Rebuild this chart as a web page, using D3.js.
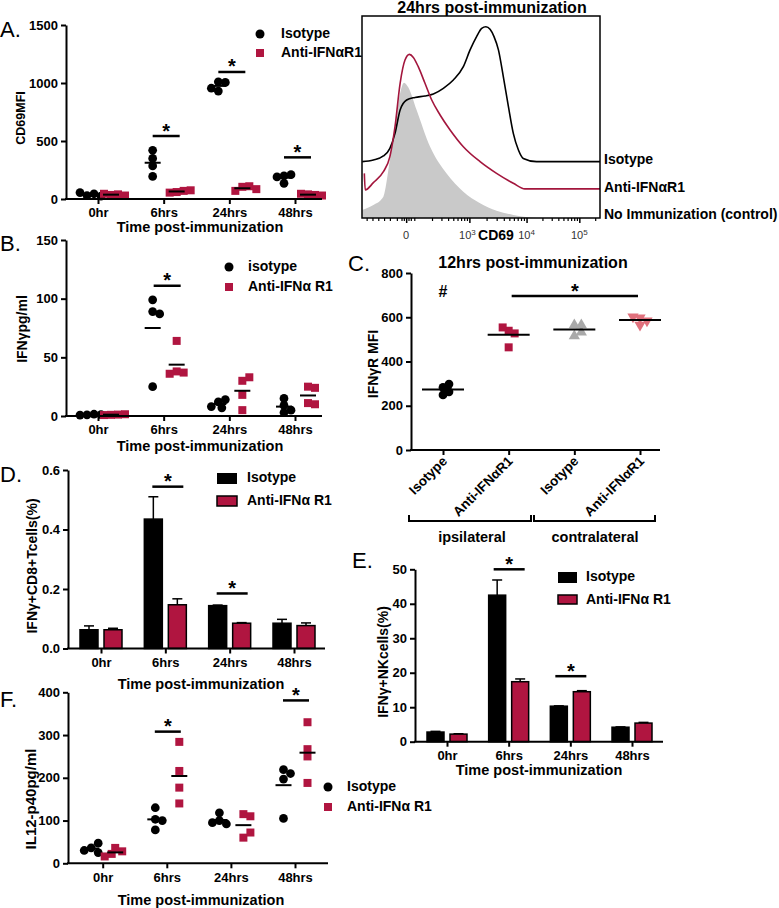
<!DOCTYPE html>
<html><head><meta charset="utf-8">
<script src="https://cdn.jsdelivr.net/npm/d3@7"></script>
<style>body{margin:0;background:#fff} svg text{font-family:"Liberation Sans",Arial,sans-serif}</style>
</head><body><script>
// ---------------- DATA ----------------
const timeLabels = ["0hr","6hrs","24hrs","48hrs"];
// Panel A – CD69 MFI
const cd69Isotype = [[30,45,55,25],[420,350,285,195],[1010,1005,930,955],[200,210,135,190]];
const cd69Anti    = [[35,40,45,30],[60,70,55,75],[105,110,70,85],[40,35,45,30]];
const cd69Sig     = [[1,543],[2,1095],[3,359]];
const cd69Ticks   = [0,500,1000,1500];
// Panel A – histogram (channel, % of max)
const histIsotype = [[1,27.9],[49,28.7],[92,30.7],[120,34.5],[142,41.9],[164,53.5],[192,58.4],[228,59.7],[271,60.4],[307,61.4],[350,64.2],[393,68.3],[436,74.9],[465,83.2],[493,89.8],[515,93.9],[533,94.7],[551,93.4],[568,89.8],[587,83.2],[608,70],[630,55.1],[651,41.9],[673,33.7],[694,29.5],[751,27.9],[1024,27.9]];
const histAnti = [[10,22.1],[14,13.9],[49,17.5],[92,22.9],[120,30.4],[142,45.2],[164,66.7],[185,78.2],[204,81],[221,79.5],[242,74.9],[271,66.7],[300,58.4],[336,51],[379,43.6],[436,35.3],[508,27.9],[579,22.1],[651,17.2],[701,14.4],[1024,14.4]];
const histControl = [[1,4],[49,6.4],[92,10.5],[120,28.7],[142,45],[164,61.7],[181,67],[199,64.7],[235,53.5],[293,35.3],[364,22],[436,13],[508,7.3],[579,3.6],[651,1.5],[723,0.3],[752,0]];
const histTickCh = [190,462,708,935];
const histTickLab = [["0",""],["10","3"],["10","4"],["10","5"]];
const histLabels = ["Isotype","Anti-IFNαR1","No Immunization (control)"];
// Panel B – IFNγ pg/ml
const ifngIsotype = [[1,1.5,0.8,1.2],[99,89,87,25],[12,14,7,8],[15,9,5,3]];
const ifngAnti    = [[1,1.2,0.8,1.5],[64,38,37,36],[30,33,18,5],[25,24,11,10]];
const ifngSig     = [[1,111]];
const ifngTicks   = [0,50,100,150];
// Panel C – IFNγR MFI
const cCategories = ["Isotype","Anti-IFNαR1","Isotype","Anti-IFNαR1"];
const ifngrIpsiIsotype   = [283,298,249,263];
const ifngrIpsiAnti      = [539,527,554,464];
const ifngrContraIsotype = [565,565,515,532];
const ifngrContraAnti    = [598,565,584,602];
const cSig   = [[1,3,696]];
const cTicks = [0,200,400,600,800];
// Panel D – IFNγ+CD8+ T cells (%)
const cd8Isotype    = [0.063,0.435,0.144,0.085];
const cd8IsotypeSem = [0.013,0.075,0.002,0.013];
const cd8Anti       = [0.063,0.147,0.085,0.077];
const cd8AntiSem    = [0.005,0.02,0.002,0.009];
const cd8Sig   = [[1,0.544],[2,0.185]];
const cd8Ticks = [0,0.2,0.4,0.6];
// Panel E – IFNγ+ NK cells (%)
const nkIsotype    = [2.8,42.5,10.3,4.2];
const nkIsotypeSem = [0.2,4.4,0.1,0.1];
const nkAnti       = [2.2,17.4,14.5,5.4];
const nkAntiSem    = [0.1,0.8,0.3,0.2];
const nkSig   = [[1,50],[2,19]];
const nkTicks = [0,10,20,30,40,50];
// Panel F – IL12-p40 pg/ml
const il12Isotype = [[36,47,25,30],[130,78,103,100],[118,100,92,95],[197,219,210,105]];
const il12Anti    = [[36,28,22,16],[284,216,177,140],[115,110,60,72],[330,267,250,188]];
const il12Sig   = [[1,308],[3,381]];
const il12Ticks = [0,100,200,300,400];

// ---------------- DRAWING ----------------
const FONT = '"Liberation Sans", Arial, sans-serif';
const RED = "#b01540", GREY = "#a9a9a9", PINK = "#e0707c";
const svg = d3.select("body").append("svg").attr("width",779).attr("height",908);

function txt(x,y,s,o={}){
  const t = svg.append("text").attr("x",x).attr("y",y).text(s)
    .attr("font-size",o.size||14).attr("font-weight",o.weight||"bold")
    .attr("text-anchor",o.anchor||"start").attr("fill",o.fill||"#000");
  if(o.rotate!==undefined) t.attr("transform",`rotate(${o.rotate},${x},${y})`);
  if(o.baseline) t.attr("dominant-baseline",o.baseline);
  return t;
}
function styleAxis(g,fs=13){
  g.select(".domain").attr("stroke","#000").attr("stroke-width",2);
  g.selectAll(".tick line").attr("stroke","#000").attr("stroke-width",2);
  g.selectAll(".tick text").attr("fill","#000").attr("font-size",fs).attr("font-weight","bold").attr("font-family",FONT);
}
function yAxis(x,y,ticks,fmt){
  const g = svg.append("g").attr("transform",`translate(${x},0)`)
    .call(d3.axisLeft(y).tickValues(ticks).tickFormat(fmt||d3.format("d")).tickSize(5).tickSizeOuter(0).tickPadding(3));
  styleAxis(g);
}
function xAxis(yPos,x0,x1,xp,showLabels=true){
  const g = svg.append("g").attr("transform",`translate(0,${yPos})`)
    .call(d3.axisBottom(xp).tickSize(5).tickSizeOuter(0).tickPadding(4));
  g.select(".domain").remove();
  styleAxis(g);
  if(!showLabels) g.selectAll(".tick text").remove();
  g.append("line").attr("x1",x0).attr("x2",x1).attr("stroke","#000").attr("stroke-width",2);
}
function marker(shape,x,y,color,s){
  const types={circle:d3.symbolCircle,square:d3.symbolSquare,tri:d3.symbolTriangle,triDown:d3.symbolTriangle};
  svg.append("path").attr("d",d3.symbol().type(types[shape]).size(s)())
    .attr("transform",`translate(${x},${y})${shape==="triDown"?" rotate(180)":""}`).attr("fill",color);
}
function swarm(vals,cx,y,r,step){
  const placed=[];
  return vals.map(v=>{
    const py=y(v); let px=cx;
    const cands=[0]; for(let j=1;j<10;j++) cands.push(j*step,-j*step);
    for(const off of cands){
      if(placed.every(p=>Math.hypot(p.x-(cx+off),p.y-py)>=r*1.5)){px=cx+off;break;}
    }
    placed.push({x:px,y:py}); return {x:px,y:py};
  });
}
function column(vals,cx,y,shape,color,half,size=60,step=3.5){
  swarm(vals,cx,y,4.3,step).forEach(p=>marker(shape,p.x,p.y,color,size));
  const m=d3.mean(vals);
  svg.append("line").attr("x1",cx-half).attr("x2",cx+half).attr("y1",y(m)).attr("y2",y(m))
    .attr("stroke","#000").attr("stroke-width",2);
}
function sigBar(x1,x2,yy){
  svg.append("line").attr("x1",x1).attr("x2",x2).attr("y1",yy).attr("y2",yy).attr("stroke","#000").attr("stroke-width",2.5);
  txt((x1+x2)/2,yy+1.5,"*",{size:20,anchor:"middle"});
}
function yLabel(x,cy,s,size=14){ txt(x,cy,s,{size,anchor:"middle",rotate:-90,baseline:"middle"}); }
function panelLetter(x,y,s){ txt(x,y,s,{size:22,weight:"normal"}); }

// ===== Panel A scatter =====
{
  const y=d3.scaleLinear().domain([0,1500]).range([199,25]);
  const xp=d3.scalePoint().domain(timeLabels).range([98,295]);
  timeLabels.forEach((t,i)=>{
    column(cd69Isotype[i],xp(t)-11,y,"circle","#000",8);
    column(cd69Anti[i],xp(t)+13,y,"square",RED,8,64);
  });
  yAxis(66,y,cd69Ticks);
  xAxis(199,65,322,xp);
  cd69Sig.forEach(([i,v])=>sigBar(xp(timeLabels[i])-11,xp(timeLabels[i])+16,y(v)));
  txt(200,232,"Time post-immunization",{size:14.5,anchor:"middle"});
  yLabel(22,118,"CD69MFI",12.5);
  panelLetter(0,37,"A.");
  marker("circle",260,34,"#000",64); txt(281,34,"Isotype",{baseline:"middle"});
  marker("square",260,53,RED,64); txt(281,53,"Anti-IFNαR1",{baseline:"middle"});
}
// ===== Panel A histogram =====
{
  const hx=d3.scaleLinear().domain([0,1024]).range([362,600]);
  const hy=d3.scaleLinear().domain([0,100]).range([218,16]);
  svg.append("clipPath").attr("id","hclip").append("rect").attr("x",362).attr("y",16).attr("width",238).attr("height",202);
  const hg=svg.append("g").attr("clip-path","url(#hclip)");
  hg.append("path").datum(histControl).attr("fill","#c9c9c9")
    .attr("d",d3.area().x(d=>hx(d[0])).y0(hy(0)).y1(d=>hy(d[1])).curve(d3.curveMonotoneX));
  const ln=d3.line().x(d=>hx(d[0])).y(d=>hy(d[1])).curve(d3.curveMonotoneX);
  hg.append("path").datum(histIsotype).attr("fill","none").attr("stroke","#000").attr("stroke-width",1.6).attr("d",ln);
  hg.append("path").datum(histAnti).attr("fill","none").attr("stroke","#a3163d").attr("stroke-width",1.6).attr("d",ln);
  svg.append("rect").attr("x",362).attr("y",16).attr("width",238).attr("height",202).attr("fill","none").attr("stroke","#000").attr("stroke-width",1.5);
  // minor ticks (biexponential display)
  const minor=[20,45,70,95,120,150,170,180,200,210,225];
  for(let d=0;d<3;d++){
    const lo=d===0?histTickCh[1]-230:histTickCh[d], hi=histTickCh[d+1];
    for(let k=2;k<10;k++) minor.push(lo+(hi-lo)*Math.log10(k));
  }
  for(let k=2;k<4;k++) minor.push(histTickCh[3]+(histTickCh[3]-histTickCh[2])*Math.log10(k));
  const ax=d3.axisBottom(hx).tickValues(minor.filter(c=>c<=1024)).tickSize(3).tickFormat("");
  const ga=svg.append("g").attr("transform","translate(0,218)").call(ax);
  ga.select(".domain").remove(); ga.selectAll(".tick line").attr("stroke","#000").attr("stroke-width",1.2);
  const gm=svg.append("g").attr("transform","translate(0,218)").call(d3.axisBottom(hx).tickValues(histTickCh).tickSize(5).tickFormat(""));
  gm.select(".domain").remove(); gm.selectAll(".tick line").attr("stroke","#000").attr("stroke-width",1.5);
  histTickCh.forEach((c,i)=>{
    const t=svg.append("text").attr("x",hx(c)-(i===1?2:0)).attr("y",239).attr("text-anchor","middle").attr("font-size",11).attr("fill","#333");
    t.append("tspan").text(histTickLab[i][0]);
    if(histTickLab[i][1]) t.append("tspan").attr("dy",-4).attr("font-size",8).text(histTickLab[i][1]);
  });
  txt(496,240,"CD69",{size:14,anchor:"middle"});
  txt(492,13,"24hrs post-immunization",{size:16,anchor:"middle"});
  [160,188,215].forEach((yy,i)=>txt(604,yy,histLabels[i],{baseline:"middle"}));
}
// ===== Panel B =====
{
  const y=d3.scaleLinear().domain([0,150]).range([416,240]);
  const xp=d3.scalePoint().domain(timeLabels).range([98,295]);
  timeLabels.forEach((t,i)=>{
    column(ifngIsotype[i],xp(t)-11,y,"circle","#000",8);
    column(ifngAnti[i],xp(t)+13,y,"square",RED,8,64);
  });
  yAxis(66,y,ifngTicks);
  xAxis(416,65,322,xp);
  ifngSig.forEach(([i,v])=>sigBar(xp(timeLabels[i])-10,xp(timeLabels[i])+17,y(v)));
  txt(200,451,"Time post-immunization",{size:14.5,anchor:"middle"});
  yLabel(23,329,"IFNγpg/ml",14);
  panelLetter(0,251,"B.");
  marker("circle",229,267,"#000",64); txt(248,267,"isotype",{baseline:"middle"});
  marker("square",229,287,RED,64); txt(248,287,"Anti-IFNα R1",{baseline:"middle"});
}
// ===== Panel C =====
{
  const y=d3.scaleLinear().domain([0,800]).range([450,273]);
  const xp=d3.scalePoint().domain([0,1,2,3]).range([443,640]);
  column(ifngrIpsiIsotype,xp(0),y,"circle","#000",21,60,6);
  column(ifngrIpsiAnti,xp(1),y,"square",RED,21,64,6);
  column(ifngrContraIsotype,xp(2),y,"tri",GREY,21,55,7);
  column(ifngrContraAnti,xp(3),y,"triDown",PINK,21,55,7);
  yAxis(411,y,cTicks);
  xAxis(450,410,660,xp,false);
  cCategories.forEach((c,i)=>txt(xp(i)+5,462,c,{size:13.5,anchor:"end",rotate:-45}));
  cSig.forEach(([a,b,v])=>{ sigBar(xp(a)+3,xp(b)-2,y(v)); });
  txt(443,297,"#",{size:16,anchor:"middle"});
  svg.append("path").attr("d","M409,515V521H531V515M534,515V521H655V515").attr("fill","none").attr("stroke","#000").attr("stroke-width",2);
  txt(472,542,"ipsilateral",{size:14.5,anchor:"middle"});
  txt(595,542,"contralateral",{size:14.5,anchor:"middle"});
  txt(533,268,"12hrs post-immunization",{size:16,anchor:"middle"});
  yLabel(374,364,"IFNγR MFI",14);
  panelLetter(348,271,"C.");
}
// ===== bar panel helper =====
function barPanel(o){
  const y=d3.scaleLinear().domain([0,o.max]).range([o.y0,o.y1]);
  const xp=d3.scalePoint().domain(timeLabels).range(o.xr);
  const bw=o.bw;
  timeLabels.forEach((t,i)=>{
    const c=xp(t);
    [[o.iso,o.isoSem,c-o.gap-bw,"#000"],[o.anti,o.antiSem,c+o.gap,RED]].forEach(([v,s,x,col])=>{
      const top=y(v[i]), et=y(v[i]+s[i]);
      svg.append("line").attr("x1",x+bw/2).attr("x2",x+bw/2).attr("y1",top).attr("y2",et).attr("stroke","#000").attr("stroke-width",1.5);
      svg.append("line").attr("x1",x+bw/2-5).attr("x2",x+bw/2+5).attr("y1",et).attr("y2",et).attr("stroke","#000").attr("stroke-width",1.5);
      svg.append("rect").attr("x",x).attr("y",top).attr("width",bw).attr("height",o.y0-top)
        .attr("fill",col).attr("stroke","#000").attr("stroke-width",1.5);
    });
  });
  yAxis(o.ax,y,o.ticks,o.fmt);
  xAxis(o.y0,o.ax-1,o.xEnd,xp);
  o.sig.forEach(([i,v])=>sigBar(xp(timeLabels[i])+o.sigL,xp(timeLabels[i])+o.sigR,y(v)));
}
// ===== Panel D =====
barPanel({max:0.6,y0:648.5,y1:470,xr:[101,294],bw:18,gap:3,iso:cd8Isotype,isoSem:cd8IsotypeSem,anti:cd8Anti,antiSem:cd8AntiSem,
  ax:68,xEnd:325,ticks:cd8Ticks,fmt:d3.format(".1f"),sig:cd8Sig,sigL:-13,sigR:18});
txt(201,689,"Time post-immunization",{size:14.5,anchor:"middle"});
yLabel(33,566,"IFNγ+CD8+Tcells(%)",14);
panelLetter(0,482,"D.");
svg.append("rect").attr("x",217).attr("y",473).attr("width",20).attr("height",11).attr("fill","#000");
txt(247,478,"Isotype",{baseline:"middle"});
svg.append("rect").attr("x",217).attr("y",496).attr("width",20).attr("height",10).attr("fill",RED).attr("stroke","#000").attr("stroke-width",1.5);
txt(247,501,"Anti-IFNα R1",{baseline:"middle"});
// ===== Panel E =====
barPanel({max:50,y0:741.7,y1:569.3,xr:[447,632],bw:17,gap:3,iso:nkIsotype,isoSem:nkIsotypeSem,anti:nkAnti,antiSem:nkAntiSem,
  ax:415,xEnd:663,ticks:nkTicks,fmt:d3.format("d"),sig:nkSig,sigL:-15,sigR:16});
txt(539,775,"Time post-immunization",{size:14.5,anchor:"middle"});
yLabel(384,662,"IFNγ+NKcells(%)",14);
panelLetter(352,568,"E.");
svg.append("rect").attr("x",558).attr("y",572).attr("width",19).attr("height",11).attr("fill","#000");
txt(586,577,"Isotype",{baseline:"middle"});
svg.append("rect").attr("x",558).attr("y",595).attr("width",19).attr("height",9).attr("fill",RED).attr("stroke","#000").attr("stroke-width",1.5);
txt(586,600,"Anti-IFNα R1",{baseline:"middle"});
// ===== Panel F =====
{
  const y=d3.scaleLinear().domain([0,400]).range([863.3,692.3]);
  const xp=d3.scalePoint().domain(timeLabels).range([102.7,295]);
  timeLabels.forEach((t,i)=>{
    column(il12Isotype[i],xp(t)-11.5,y,"circle","#000",8);
    column(il12Anti[i],xp(t)+12.5,y,"square",RED,8,64);
  });
  yAxis(68,y,il12Ticks);
  xAxis(863.3,67,328,xp);
  il12Sig.forEach(([i,v])=>sigBar(xp(timeLabels[i])-12,xp(timeLabels[i])+14,y(v)));
  txt(201,905,"Time post-immunization",{size:14.5,anchor:"middle"});
  yLabel(32,799,"IL12-p40pg/ml",15);
  panelLetter(0,707,"F.");
  marker("circle",328,787,"#000",64); txt(347,787,"Isotype",{baseline:"middle"});
  marker("square",328,807,RED,64); txt(347,807,"Anti-IFNα R1",{baseline:"middle"});
}
</script></body></html>
